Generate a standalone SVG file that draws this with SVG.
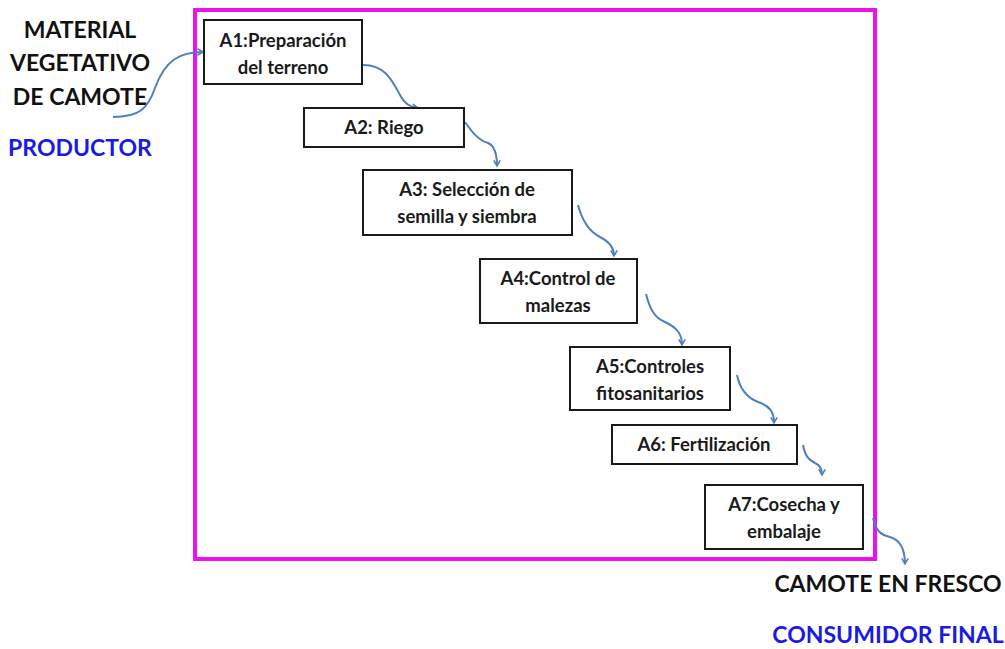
<svg xmlns="http://www.w3.org/2000/svg" width="1005" height="649" viewBox="0 0 1005 649">
  <style>
    .box { fill: #ffffff; stroke: #1a1a1a; stroke-width: 2; }
    .lbl { font-family: Lato, "Open Sans", "Liberation Sans", sans-serif; font-weight: bold; font-size: 18.5px; fill: #1a1a1a; text-anchor: middle; }
    .big { font-family: Lato, "Open Sans", "Liberation Sans", sans-serif; font-weight: bold; font-size: 23px; fill: #111111; text-anchor: middle; }
    .blue { fill: #1a1ae6; }
    .link { fill: none; stroke: #4f7fbf; stroke-width: 2; marker-end: url(#arrow); }
  </style>
  <defs>
    <marker id="arrow" viewBox="0 0 10 10" refX="8" refY="5" markerWidth="8" markerHeight="8" orient="auto" markerUnits="userSpaceOnUse">
      <polyline points="1,1 8,5 1,9" fill="none" stroke="#4f7fbf" stroke-width="2"/>
    </marker>
  </defs>
  <rect width="1005" height="649" fill="#ffffff"/>

  <!-- outer process frame -->
  <rect x="195" y="10" width="680" height="549" fill="none" stroke="#ee10ee" stroke-width="4"/>

  <!-- side labels -->
  <g id="input">
    <text class="big" x="80" y="38">MATERIAL</text>
    <text class="big" x="80" y="71">VEGETATIVO</text>
    <text class="big" x="80" y="105">DE CAMOTE</text>
    <text class="big blue" x="80" y="156">PRODUCTOR</text>
  </g>
  <g id="output">
    <text class="big" x="888" y="592">CAMOTE EN FRESCO</text>
    <text class="big blue" x="888" y="643">CONSUMIDOR FINAL</text>
  </g>

  <!-- connectors -->
  <g id="connectors">
    <path class="link" d="M113,117 C140,117 148,108 155,88 C165,60 180,52 203,52"/>
    <path class="link" d="M363,65 C385,65 392,80 400,95 C405,104 410,107 418,108"/>
    <path class="link" d="M465,122 C472,132 478,140 488,143 C495,146 497,155 497,166"/>
    <path class="link" d="M578,205 C582,220 590,232 600,237 C610,242 614,248 614,256"/>
    <path class="link" d="M646,294 C650,310 655,318 665,322 C678,328 682,335 682,345"/>
    <path class="link" d="M737,375 C740,390 748,398 758,402 C770,406 774,412 774,423"/>
    <path class="link" d="M803,445 C805,455 808,460 815,463 C820,465 822,470 822,475"/>
    <path class="link" d="M873,518 C876,530 880,535 890,537 C900,540 905,550 905,564"/>
  </g>

  <!-- process steps -->
  <g id="a1">
    <rect class="box" x="204" y="20" width="158" height="64"/>
    <text class="lbl" x="283" y="47">A1:Preparación</text>
    <text class="lbl" x="283" y="74">del terreno</text>
  </g>
  <g id="a2">
    <rect class="box" x="304" y="108" width="160" height="39"/>
    <text class="lbl" x="384" y="134">A2: Riego</text>
  </g>
  <g id="a3">
    <rect class="box" x="363" y="170" width="209" height="65"/>
    <text class="lbl" x="467" y="196">A3: Selección de</text>
    <text class="lbl" x="467" y="223">semilla y siembra</text>
  </g>
  <g id="a4">
    <rect class="box" x="480" y="259" width="157" height="64"/>
    <text class="lbl" x="558" y="285">A4:Control de</text>
    <text class="lbl" x="558" y="312">malezas</text>
  </g>
  <g id="a5">
    <rect class="box" x="570" y="347" width="160" height="63"/>
    <text class="lbl" x="650" y="373">A5:Controles</text>
    <text class="lbl" x="650" y="400">fitosanitarios</text>
  </g>
  <g id="a6">
    <rect class="box" x="612" y="425" width="185" height="39"/>
    <text class="lbl" x="704" y="451">A6: Fertilización</text>
  </g>
  <g id="a7">
    <rect class="box" x="705" y="485" width="158" height="64"/>
    <text class="lbl" x="784" y="511">A7:Cosecha y</text>
    <text class="lbl" x="784" y="538">embalaje</text>
  </g>
</svg>
